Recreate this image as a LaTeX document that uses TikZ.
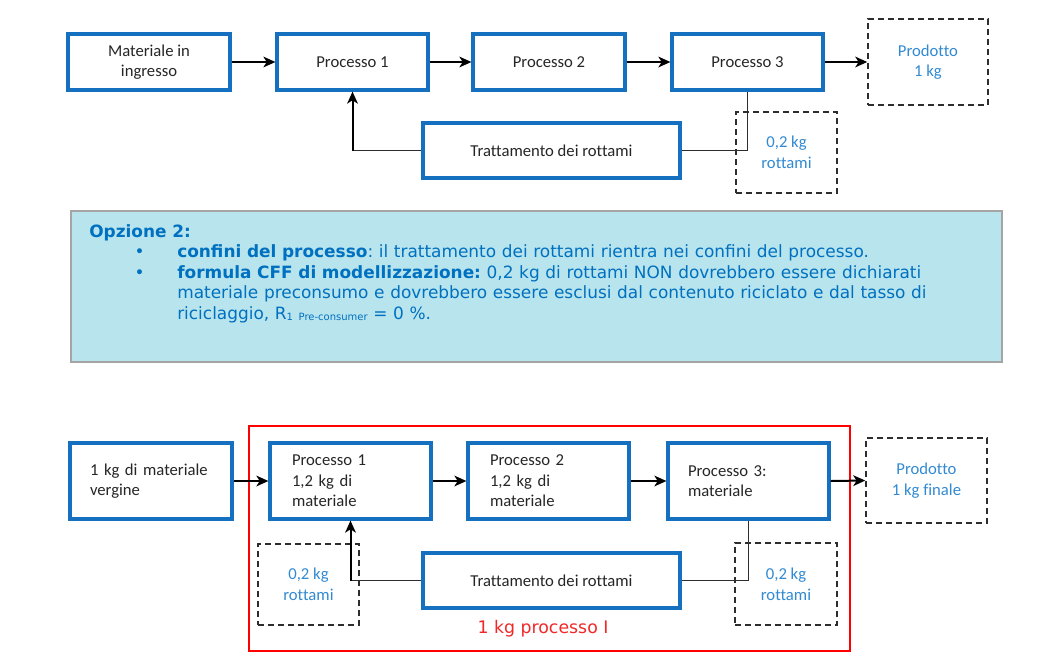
\documentclass[tikz,border=0pt]{standalone}
\usepackage{fontspec}
\setmainfont{Carlito}[Ligatures={NoCommon}]
\newfontfamily\vfont{DejaVu Sans}
\usetikzlibrary{arrows.meta}
\definecolor{boxblue}{RGB}{22,112,192}
\definecolor{lblue}{RGB}{50,138,210}
\definecolor{tblue}{RGB}{0,112,192}
\definecolor{tfill}{RGB}{183,228,237}
\definecolor{tgray}{RGB}{165,165,165}
\definecolor{dtext}{RGB}{38,38,38}
\definecolor{dline}{RGB}{45,45,45}
\definecolor{rred}{RGB}{255,0,0}
\definecolor{rtext}{RGB}{240,40,40}
\begin{document}
\begin{tikzpicture}[x=0.75pt,y=-0.75pt,
  every node/.style={inner sep=0pt},
  sz/.style 2 args={minimum width=#1*0.75pt, minimum height=#2*0.75pt},
  box/.style={draw=boxblue, line width=2.4pt, fill=white, text=dtext,
    font=\fontsize{12.5}{15.4}\selectfont, align=center},
  lbox/.style={box, text width=#1, align=left},
  dbox/.style={draw=dline, line width=1.1pt, dash pattern=on 4.5pt off 3pt,
    text=lblue, font=\fontsize{12.5}{15.4}\selectfont, align=center},
  arr/.style={draw=black, line width=1.5pt, -{Stealth[length=9pt,width=8pt,inset=2.5pt]}},
  conn/.style={draw=dline, line width=0.9pt},
]
\useasboundingbox (0,0) rectangle (1048,664);
\fill[white] (0,0) rectangle (1048,664);

% ---------- top diagram ----------
\node[box, sz={162}{56}] (m1) at (149,62) {Materiale in\\ingresso};
\node[box, sz={151}{56}] (p1) at (352.5,62) {Processo 1};
\node[box, sz={152}{56}] (p2) at (549,62) {Processo 2};
\node[box, sz={151}{56}] (p3) at (747.5,62) {Processo 3};
\node[dbox, sz={120}{86}] (prod) at (928,62) {Prodotto\\1 kg};
\node[box, sz={257}{55}] (tr) at (551.5,150.5) {Trattamento dei rottami};
\node[dbox, sz={101}{81}] (scr) at (786.5,152.5) {0,2 kg\\rottami};

\draw[arr] (m1.east) -- (p1.west);
\draw[arr] (p1.east) -- (p2.west);
\draw[arr] (p2.east) -- (p3.west);
\draw[arr] (p3.east) -- (prod.west);
\draw[conn] (p3.south) |- (tr.east);
\coordinate (k1) at (p1.south |- tr.west);
\draw[conn] (tr.west) -- (k1);
\draw[arr] (k1) -- (p1.south);

% ---------- text box ----------
\node[fill=tfill, draw=tgray, line width=1.1pt, sz={931}{151}] (tb) at (536.5,286.5) {};
\node[anchor=base west, text width=690pt, text=tblue,
  font=\vfont\fontsize{12.7}{15.4}\selectfont] (opt) at (89,237) {%
\parindent=0pt\frenchspacing
\noindent\textbf{Opzione 2:}\par
\leftskip=66pt\relax
\noindent\llap{\hbox to 32pt{\textbullet\hfil}}\textbf{confini del processo}: il trattamento dei rottami rientra nei confini del processo.\par
\noindent\llap{\hbox to 32pt{\textbullet\hfil}}\textbf{formula CFF di modellizzazione:} 0,2 kg di rottami NON dovrebbero essere dichiarati\newline
materiale preconsumo e dovrebbero essere esclusi dal contenuto riciclato e dal tasso di\newline
riciclaggio, R\raisebox{-1pt}{\fontsize{7.5}{9}\selectfont 1 Pre-consumer} = 0 \%.\par};

% ---------- bottom diagram ----------
\node[draw=rred, line width=2.2pt, sz={601}{225}] (red) at (549.5,538.5) {};
\node[text=rtext, font=\vfont\fontsize{13}{15}\selectfont, anchor=base] (rl) at (543,633) {1 kg processo I};

\node[lbox=91.5pt, sz={162}{76}] (v) at (151,481) {\mbox{1 kg di materiale}\\vergine};
\node[lbox=87.75pt, sz={161}{76}] (q1) at (350.5,481) {Processo 1\\1,2 kg di\\materiale};
\node[lbox=87.75pt, sz={161}{76}] (q2) at (548.5,481) {Processo 2\\1,2 kg di\\materiale};
\node[lbox=90.75pt, sz={161}{76}] (q3) at (748.5,481) {Processo 3:\\materiale};
\node[dbox, sz={121}{85}] (prod2) at (926.5,480.5) {Prodotto\\1 kg finale};
\node[dbox, sz={101}{81}] (sl) at (308.5,584.5) {0,2 kg\\rottami};
\node[box, sz={257}{55}] (tr2) at (551.5,580.5) {Trattamento dei rottami};
\node[dbox, sz={102}{82}] (sr) at (786,584) {0,2 kg\\rottami};

\draw[arr] (v.east) -- (q1.west);
\draw[arr] (q1.east) -- (q2.west);
\draw[arr] (q2.east) -- (q3.west);
\draw[arr] (q3.east) -- (prod2.west);
\draw[conn] (q3.south) |- (tr2.east);
\coordinate (k2) at (q1.south |- tr2.west);
\draw[conn] (tr2.west) -- (k2);
\draw[arr] (k2) -- (q1.south);
\end{tikzpicture}
\end{document}
